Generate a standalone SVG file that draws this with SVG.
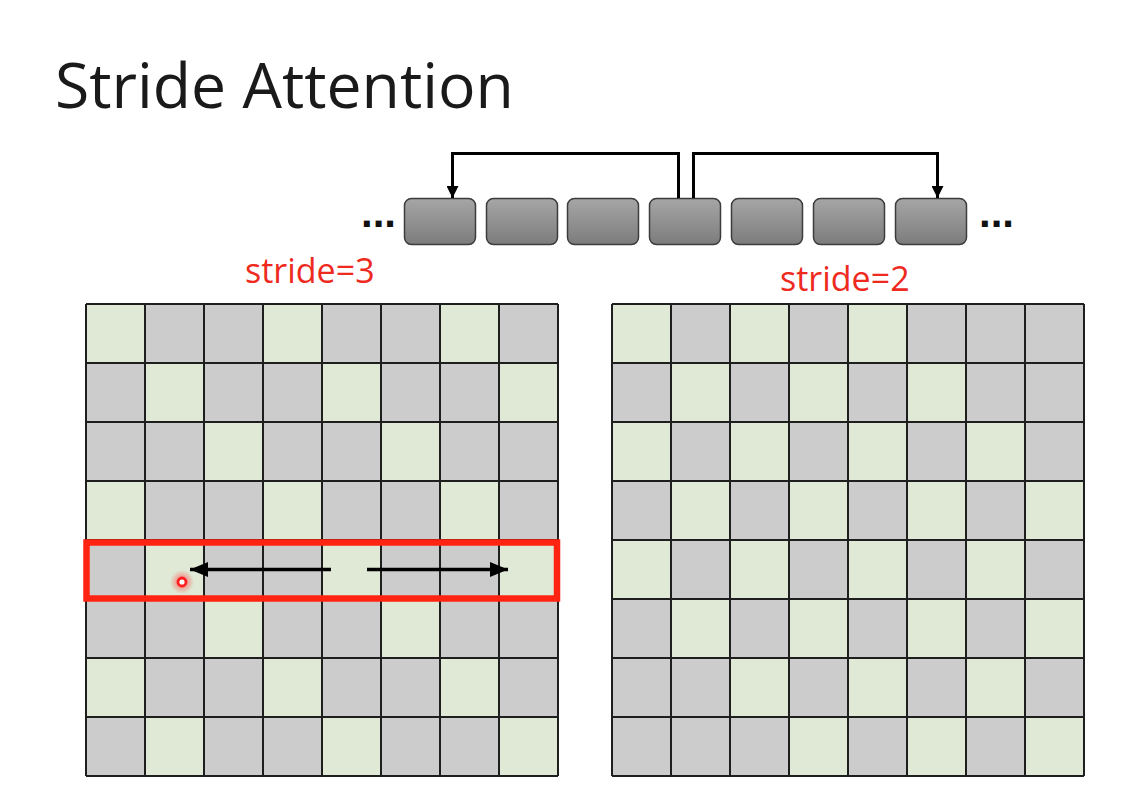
<svg xmlns="http://www.w3.org/2000/svg" width="1123" height="802" viewBox="0 0 1123 802">
<style>
.title{font-family:"Open Sans","Liberation Sans",sans-serif;font-size:62.5px;fill:#1a1a1a}
.lbl{font-family:"Open Sans","Liberation Sans",sans-serif;font-size:34px;fill:#ee2a1e}
.dots{font-family:"Liberation Sans",sans-serif;font-size:42px;font-weight:bold;fill:#111}
.tok{fill:url(#tokg);stroke:#3c3c3c;stroke-width:1.5}
.bg{fill:#cccccc}
.g{fill:#dfe9d5}
.lines{stroke:#1e1e1e;stroke-width:2;fill:none}
.conn{stroke:#000;stroke-width:3;fill:none}
.rowarrow{stroke:#000;stroke-width:3.5;fill:none}
</style>
<defs>
<linearGradient id="tokg" x1="0" y1="0" x2="0" y2="1">
<stop offset="0" stop-color="#a6a6a6"/>
<stop offset="1" stop-color="#7c7c7c"/>
</linearGradient>
<radialGradient id="glow">
<stop offset="0" stop-color="#ff3030" stop-opacity="0.7"/>
<stop offset="1" stop-color="#ff3030" stop-opacity="0"/>
</radialGradient>
<marker id="ah" viewBox="0 0 10 10" refX="10" refY="5" markerWidth="12" markerHeight="12" markerUnits="userSpaceOnUse" orient="auto">
<path d="M0,0 L10,5 L0,10 z" fill="#000"/>
</marker>
<marker id="ah2" viewBox="0 0 18 15" refX="18" refY="7.5" markerWidth="18" markerHeight="15" markerUnits="userSpaceOnUse" orient="auto">
<path d="M0,0 L18,7.5 L0,15 z" fill="#000"/>
</marker>
</defs>
<rect width="1123" height="802" fill="#ffffff"/>
<g id="title"><text class="title" x="55" y="108">Stride Attention</text></g>

<g id="sequence">
<text class="dots" x="361" y="227">...</text>
<rect id="tok1" class="tok" x="404.5" y="198.5" width="71" height="46" rx="7"/>
<rect id="tok2" class="tok" x="486.5" y="198.5" width="71" height="46" rx="7"/>
<rect id="tok3" class="tok" x="567.5" y="198.5" width="71" height="46" rx="7"/>
<rect id="tok4" class="tok" x="649.5" y="198.5" width="71" height="46" rx="7"/>
<rect id="tok5" class="tok" x="731.5" y="198.5" width="71" height="46" rx="7"/>
<rect id="tok6" class="tok" x="813.5" y="198.5" width="71" height="46" rx="7"/>
<rect id="tok7" class="tok" x="895.5" y="198.5" width="71" height="46" rx="7"/>
<text class="dots" x="979" y="227">...</text>
</g>

<g id="label-stride3"><text class="lbl" x="245" y="283">stride=3</text></g>
<g id="label-stride2"><text class="lbl" x="780" y="291">stride=2</text></g>

<g id="grid-stride3">
<rect class="bg" x="86" y="304" width="472" height="472"/>
<rect class="g" x="86" y="304" width="59" height="59"/><rect class="g" x="263" y="304" width="59" height="59"/><rect class="g" x="440" y="304" width="59" height="59"/>
<rect class="g" x="145" y="363" width="59" height="59"/><rect class="g" x="322" y="363" width="59" height="59"/><rect class="g" x="499" y="363" width="59" height="59"/>
<rect class="g" x="204" y="422" width="59" height="59"/><rect class="g" x="381" y="422" width="59" height="59"/>
<rect class="g" x="86" y="481" width="59" height="59"/><rect class="g" x="263" y="481" width="59" height="59"/><rect class="g" x="440" y="481" width="59" height="59"/>
<rect class="g" x="145" y="540" width="59" height="59"/><rect class="g" x="322" y="540" width="59" height="59"/><rect class="g" x="499" y="540" width="59" height="59"/>
<rect class="g" x="204" y="599" width="59" height="59"/><rect class="g" x="381" y="599" width="59" height="59"/>
<rect class="g" x="86" y="658" width="59" height="59"/><rect class="g" x="263" y="658" width="59" height="59"/><rect class="g" x="440" y="658" width="59" height="59"/>
<rect class="g" x="145" y="717" width="59" height="59"/><rect class="g" x="322" y="717" width="59" height="59"/><rect class="g" x="499" y="717" width="59" height="59"/>
<path class="lines" d="M86,304V776M145,304V776M204,304V776M263,304V776M322,304V776M381,304V776M440,304V776M499,304V776M558,304V776M86,304H558M86,363H558M86,422H558M86,481H558M86,540H558M86,599H558M86,658H558M86,717H558M86,776H558"/>
</g>

<g id="grid-stride2">
<rect class="bg" x="612" y="304" width="472" height="472"/>
<rect class="g" x="612" y="304" width="59" height="59"/><rect class="g" x="730" y="304" width="59" height="59"/><rect class="g" x="848" y="304" width="59" height="59"/>
<rect class="g" x="671" y="363" width="59" height="59"/><rect class="g" x="789" y="363" width="59" height="59"/><rect class="g" x="907" y="363" width="59" height="59"/>
<rect class="g" x="612" y="422" width="59" height="59"/><rect class="g" x="730" y="422" width="59" height="59"/><rect class="g" x="848" y="422" width="59" height="59"/><rect class="g" x="966" y="422" width="59" height="59"/>
<rect class="g" x="671" y="481" width="59" height="59"/><rect class="g" x="789" y="481" width="59" height="59"/><rect class="g" x="907" y="481" width="59" height="59"/><rect class="g" x="1025" y="481" width="59" height="59"/>
<rect class="g" x="612" y="540" width="59" height="59"/><rect class="g" x="730" y="540" width="59" height="59"/><rect class="g" x="848" y="540" width="59" height="59"/><rect class="g" x="966" y="540" width="59" height="59"/>
<rect class="g" x="671" y="599" width="59" height="59"/><rect class="g" x="789" y="599" width="59" height="59"/><rect class="g" x="907" y="599" width="59" height="59"/><rect class="g" x="1025" y="599" width="59" height="59"/>
<rect class="g" x="730" y="658" width="59" height="59"/><rect class="g" x="848" y="658" width="59" height="59"/><rect class="g" x="966" y="658" width="59" height="59"/>
<rect class="g" x="789" y="717" width="59" height="59"/><rect class="g" x="907" y="717" width="59" height="59"/><rect class="g" x="1025" y="717" width="59" height="59"/>
<path class="lines" d="M612,304V776M671,304V776M730,304V776M789,304V776M848,304V776M907,304V776M966,304V776M1025,304V776M1084,304V776M612,304H1084M612,363H1084M612,422H1084M612,481H1084M612,540H1084M612,599H1084M612,658H1084M612,717H1084M612,776H1084"/>
</g>

<g id="highlight-row">
<rect x="86.5" y="542.5" width="470.5" height="56" fill="none" stroke="#ff2412" stroke-width="6.5"/>
</g>

<g id="query-point">
<circle cx="182" cy="582" r="12" fill="url(#glow)"/>
<circle cx="182" cy="582" r="4" fill="#fff" stroke="#ff1f1f" stroke-width="2.8"/>
</g>

<g id="connectors">
<path class="conn" d="M678.5,198 V153.5 H452.5 V198" marker-end="url(#ah)"/>
<path class="conn" d="M693.5,198 V153.5 H937.5 V198" marker-end="url(#ah)"/>
<path class="rowarrow" d="M331,569.5 H190" marker-end="url(#ah2)"/>
<path class="rowarrow" d="M367,569.5 H508" marker-end="url(#ah2)"/>
</g>
</svg>
